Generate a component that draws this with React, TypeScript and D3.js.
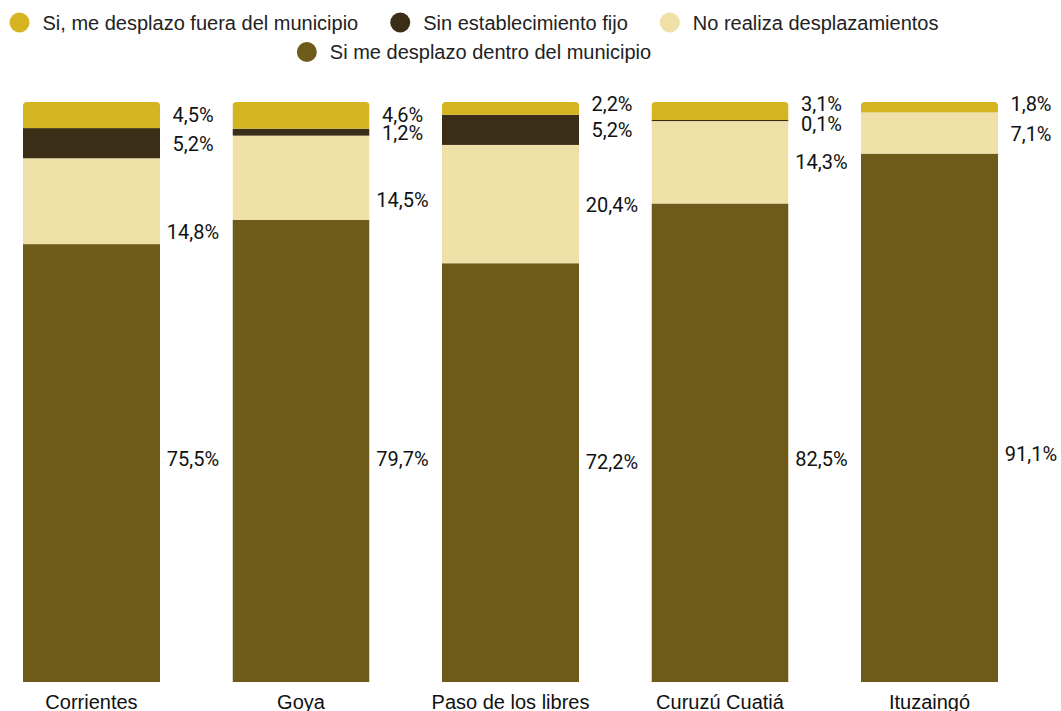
import React, { useEffect, useRef } from "react";
import * as d3 from "d3";

const categories = ["Corrientes", "Goya", "Paso de los libres", "Curuzú Cuatiá", "Ituzaingó"];
const seriesNames = [
  "Si me desplazo dentro del municipio",
  "No realiza desplazamientos",
  "Sin establecimiento fijo",
  "Si, me desplazo fuera del municipio",
];
const dentro = [75.5, 79.7, 72.2, 82.5, 91.1];
const noRealiza = [14.8, 14.5, 20.4, 14.3, 7.1];
const sinFijo = [5.2, 1.2, 5.2, 0.1, 0];
const fuera = [4.5, 4.6, 2.2, 3.1, 1.8];
// where each value label sits, in value units (0 = bottom, 100 = top)
const labelAtDentro = [38.4, 38.4, 37.9, 38.4, 39.3];
const labelAtNo = [77.6, 83.1, 82.3, 89.6, 94.4];
const labelAtSin = [92.7, 94.7, 95.1, 96.2, NaN];
const labelAtFuera = [97.7, 97.8, 99.7, 99.6, 99.7];
const colors = ["#6E5B19", "#EFE0A7", "#3B2E17", "#D5B421"];
const legendOrder = [3, 2, 1, 0];
const yTicks = [0, 100];

export default function App() {
  const ref = useRef<SVGSVGElement>(null);
  useEffect(() => {
    const svg = d3.select(ref.current);
    svg.selectAll("*").remove();
    const x = d3.scaleBand().domain(categories).range([23, 998]).paddingInner(0.346).paddingOuter(0);
    const y = d3.scaleLinear().domain([yTicks[0], yTicks[1]]).range([682, 102]);
    const series = [dentro, noRealiza, sinFijo, fuera];
    const labelAts = [labelAtDentro, labelAtNo, labelAtSin, labelAtFuera];
    const stackData = categories.map((c, i) => {
      const o: any = { cat: c };
      seriesNames.forEach((s, k) => (o[s] = series[k][i]));
      return o;
    });
    const stacked = d3.stack().keys(seriesNames)(stackData);
    const bw = x.bandwidth();
    const r = 4;

    const defs = svg.append("defs");
    categories.forEach((c, i) => {
      const x0 = x(c)!, x1 = x0 + bw, top = y(100), bot = y(0);
      defs.append("clipPath").attr("id", "clip" + i)
        .append("path")
        .attr("d", `M${x0},${bot}L${x0},${top + r}Q${x0},${top} ${x0 + r},${top}L${x1 - r},${top}Q${x1},${top} ${x1},${top + r}L${x1},${bot}Z`);
    });

    const bars = svg.append("g");
    categories.forEach((c, i) => {
      const g = bars.append("g").attr("clip-path", `url(#clip${i})`);
      stacked.forEach((layer, k) => {
        const d = layer[i];
        if (d[1] - d[0] <= 0) return;
        let yy = y(d[1]);
        let h = y(d[0]) - y(d[1]);
        if (h < 1.6) { yy = yy - (1.6 - h) / 2; h = 1.6; }
        g.append("rect").attr("x", x(c)!).attr("y", yy).attr("width", bw).attr("height", h).attr("fill", colors[k]);
      });
    });

    const fmt = (v: number) => d3.format(".1f")(v).replace(".", ",") + "%";
    const labels = svg.append("g").attr("font-family", "Roboto, sans-serif").attr("font-size", 20).attr("fill", "#111").attr("text-anchor", "middle");
    categories.forEach((c, i) => {
      series.forEach((s, k) => {
        if (!(s[i] > 0)) return;
        const at = labelAts[k][i];
        if (isNaN(at)) return;
        labels.append("text").attr("x", x(c)! + bw + 33).attr("y", y(at) + 7).text(fmt(s[i]));
      });
    });

    const catG = svg.append("g").attr("font-family", "'Liberation Sans', Arial, sans-serif").attr("font-size", 20).attr("fill", "#111").attr("text-anchor", "middle");
    categories.forEach((c) => {
      catG.append("text").attr("x", x(c)! + bw / 2).attr("y", 709).text(c);
    });

    // legend
    const leg = svg.append("g").attr("font-family", "'Liberation Sans', Arial, sans-serif").attr("font-size", 20).attr("fill", "#222");
    const rows = [[legendOrder[0], legendOrder[1], legendOrder[2]], [legendOrder[3]]];
    const rowY = [22.5, 52];
    const center = 474;
    rows.forEach((row, ri) => {
      const items = row.map((k) => {
        const g = leg.append("g");
        g.append("circle").attr("cx", 10).attr("cy", 0).attr("r", 10).attr("fill", colors[k]);
        const t = g.append("text").attr("x", 33).attr("y", 7).text(seriesNames[k]);
        const w = 33 + (t.node() as SVGTextElement).getComputedTextLength();
        return { g, w };
      });
      const gap = 32;
      const total = d3.sum(items, (d) => d.w) + gap * (items.length - 1);
      let cx = center - total / 2;
      items.forEach((it) => {
        it.g.attr("transform", `translate(${cx},${rowY[ri]})`);
        cx += it.w + gap;
      });
    });
  }, []);
  return (
    <svg ref={ref} width={1061} height={711} style={{ display: "block", position: "absolute", left: 0, top: 0, background: "#fff" }} />
  );
}
